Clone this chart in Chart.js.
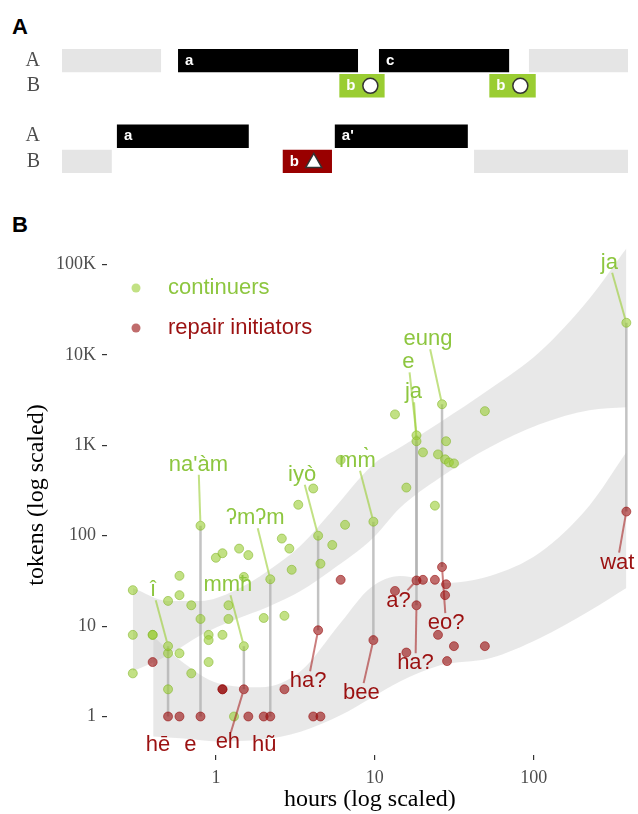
<!DOCTYPE html>
<html>
<head>
<meta charset="utf-8">
<script src="https://cdn.jsdelivr.net/npm/chart.js@4.4.1/dist/chart.umd.min.js"></script>
<style>
  body { margin: 0; background: #fff; width: 638px; height: 814px; position: relative; overflow: hidden; font-family: "Liberation Sans", Arial, sans-serif; }
  .tag { position: absolute; font-weight: bold; font-size: 22px; color: #000; line-height: 26px; }
  #wrapA { position: absolute; left: 0; top: 0; width: 638px; height: 200px; }
  #wrapB { position: absolute; left: 0; top: 200px; width: 638px; height: 614px; }
</style>
</head>
<body>
<div class="tag" style="left:12px;top:14px">A</div>
<div class="tag" style="left:12px;top:212px">B</div>
<div id="wrapA"><canvas id="turns"></canvas></div>
<div id="wrapB"><canvas id="scatter"></canvas></div>
<script>
// ---- panel A: turn timeline ----
const rowNames = ['A', 'B', '', 'A', 'B'];
const turnRow = [0, 0, 0, 0, 1, 1, 3, 3, 4, 4, 4];
const turnStart = [0, 20.5, 56, 82.5, 49, 75.5, 9.7, 48.2, 0, 39, 72.8];
const turnEnd = [17.5, 52.3, 79, 100, 57, 83.7, 33, 71.7, 8.8, 47.7, 100];
const turnKind = ['other', 'talk', 'talk', 'other', 'cont', 'cont', 'talk', 'talk', 'other', 'repair', 'other'];
const turnLabel = ['', 'a', 'c', '', 'b', 'b', 'a', "a'", '', 'b', ''];

// ---- panel B: hours vs tokens ----
const contHours = [0.3, 0.3, 0.3, 0.4, 0.4, 0.5, 0.5, 0.5, 0.59, 0.59, 0.59, 0.7, 0.7, 0.8, 0.9, 0.9, 0.9,
  1.0, 1.1, 1.1, 1.2, 1.2, 1.4, 1.6, 1.5, 1.3, 2.6, 2.9, 3.0, 3.3, 4.1, 5.4, 4.55, 6.5, 6.1, 2.0, 2.7,
  13.4, 20.1, 28.1, 25, 27.7, 29.3, 31.5, 49.3, 15.8, 23.9];
const contTokens = [25, 8, 3, 8, 8, 19, 5, 2, 36, 22, 5, 17, 3, 12, 8, 7, 4,
  57, 64, 8, 17, 12, 72, 61, 35, 1, 93, 72, 42, 220, 333, 79, 49, 132, 690, 12.3, 13,
  2200, 836, 1110, 794, 700, 647, 631, 2390, 341, 215];
const repHours = [0.4, 0.59, 1.1, 1.1, 1.6, 2.0, 2.7, 4.1, 4.55, 6.1, 13.4, 20.1, 23.9, 28.1, 27.7, 25, 31.5, 49.3, 15.8, 28.5];
const repTokens = [4, 1, 2, 2, 1, 1, 2, 1, 1, 32.5, 24.5, 32.5, 32.5, 29, 22, 8, 6, 6, 5.1, 4.1];

// labelled pairs: same language, continuer vs repair initiator
const pairHours = [0.5, 0.8, 1.5, 2.2, 4.4, 9.8, 18.3, 18.3, 26.5, 383];
const pairCont = [6, 129, 6, 33, 100, 143, 1290, 1110, 2850, 22700];
const pairRep = [1, 1, 2, 1, 9, 7, 32, 17, 45, 185];
const contWords = ['î', "na'àm", 'mmħ', 'ʔmʔm', 'iyò', 'mm\u0300', 'e', 'ja', 'eung', 'ja'];
const repWords = ['hē', 'e', 'eh', 'hũ', 'ha?', 'bee', 'a?', 'ha?', 'eo?', 'wat'];

// smoother confidence bands
const contBandHours = [0.3, 0.5, 0.8, 1.3, 2.12, 3.41, 5.26, 9.79, 14.5, 25.8, 53, 109, 224, 383];
const contBandHigh = [26.4, 19, 19, 24.5, 40.8, 77.4, 180, 615, 950, 1800, 4190, 10800, 41900, 150600];
const contBandLow = [3.16, 4.76, 7.94, 11.7, 16.3, 24.5, 40.8, 95, 205, 441, 950, 1710, 2450, 2640];
const repBandHours = [0.403, 0.63, 1.03, 1.92, 3.41, 6.08, 9.37, 14.5, 25.8, 53, 109, 224, 383];
const repBandHigh = [7.74, 3.88, 2.33, 2.1, 3.16, 10.8, 26.4, 35.9, 30, 35.9, 64.7, 215, 836];
const repBandLow = [0.6, 0.57, 0.53, 0.555, 0.68, 1.03, 1.58, 2.45, 3.69, 4.41, 7.36, 14.7, 26.4];

const hourTicks = [1, 10, 100];
const tokenTicks = [1, 10, 100, 1000, 10000, 100000];
const tokenTickLabels = ['1', '10', '100', '1K', '10K', '100K'];
const legendNames = ['continuers', 'repair initiators'];

const GREEN = '#8dc63f';
const RED = '#9b1111';
const kindColor = { other: '#e5e5e5', talk: '#000000', cont: '#9acd32', repair: '#990000' };
const serif = '"Liberation Serif", "Times New Roman", serif';
const sans = '"Liberation Sans", Arial, sans-serif';

// label offsets in px from the point: [dx, dy, draw leader]
const contOffset = [[-15, -56, 1], [-2, -61, 1], [-16, -61, 1], [-15, -61, 1], [-16, -61, 1], [-16, -61, 1],
  [-8, -73, 1], [-3, -49, 1], [-14, -65, 1], [-17, -60, 1]];
const repOffset = [[-10, 28, 0], [-10, 28, 0], [-16, 53, 1], [-6, 28, 0], [-10, 51, 1], [-12, 53, 1],
  [-18, 20, 1], [-1, 58, 1], [4, 56, 1], [-9, 51, 1]];

// ---------- panel A ----------
const turnLabels = {
  id: 'turnLabels',
  afterDatasetsDraw(chart) {
    const ctx = chart.ctx;
    ctx.save();
    ctx.font = 'bold 15px ' + sans;
    ctx.textBaseline = 'middle';
    turnRow.forEach((r, k) => {
      if (!turnLabel[k]) return;
      const bar = chart.getDatasetMeta(k).data[r];
      const left = Math.min(bar.x, bar.base);
      ctx.fillStyle = '#fff';
      ctx.textAlign = 'left';
      ctx.fillText(turnLabel[k], left + 7, bar.y);
      if (turnKind[k] === 'cont' || turnKind[k] === 'repair') {
        const cx = left + 31, cy = bar.y;
        ctx.beginPath();
        if (turnKind[k] === 'cont') {
          ctx.arc(cx, cy, 7.5, 0, Math.PI * 2);
        } else {
          ctx.moveTo(cx, cy - 8);
          ctx.lineTo(cx + 8, cy + 6);
          ctx.lineTo(cx - 8, cy + 6);
          ctx.closePath();
        }
        ctx.fillStyle = '#fff';
        ctx.fill();
        ctx.lineWidth = 1.5;
        ctx.strokeStyle = '#333';
        ctx.stroke();
      }
    });
    ctx.restore();
  }
};

new Chart(document.getElementById('turns'), {
  type: 'bar',
  data: {
    labels: rowNames,
    datasets: turnRow.map((r, k) => ({
      data: rowNames.map((_, i) => i === r ? [turnStart[k], turnEnd[k]] : null),
      backgroundColor: kindColor[turnKind[k]],
      borderWidth: 0,
      grouped: false,
      barPercentage: 0.93,
      categoryPercentage: 1
    }))
  },
  options: {
    indexAxis: 'y',
    responsive: true,
    maintainAspectRatio: false,
    animation: false,
    layout: { padding: { top: 48, bottom: 13, right: 10, left: 0 } },
    plugins: { legend: { display: false }, tooltip: { enabled: false } },
    scales: {
      x: { type: 'linear', min: 0, max: 100, display: false },
      y: {
        grid: { display: false },
        border: { display: false },
        ticks: { autoSkip: false, color: '#4d4d4d', font: { family: serif, size: 20 }, padding: 14 },
        afterFit: s => { s.width = 62; }
      }
    }
  },
  plugins: [turnLabels]
});

// ---------- panel B ----------
function drawTag(ctx, px, py, text, off, textColor, lineColor) {
  const lx = px + off[0], ly = py + off[1];
  const hw = ctx.measureText(text).width / 2 + 1, hh = 10;
  const dx = px - lx, dy = py - ly;
  const len = Math.hypot(dx, dy);
  const t0 = Math.min(dx ? hw / Math.abs(dx) : 1e9, dy ? hh / Math.abs(dy) : 1e9);
  const t1 = 1 - 4.5 / len;
  if (off[2] && t1 > t0) {
    ctx.beginPath();
    ctx.moveTo(lx + dx * t0, ly + dy * t0);
    ctx.lineTo(lx + dx * t1, ly + dy * t1);
    ctx.strokeStyle = lineColor;
    ctx.lineWidth = 2;
    ctx.stroke();
  }
  ctx.fillStyle = textColor;
  ctx.fillText(text, lx, ly);
}

const wordLabels = {
  id: 'wordLabels',
  afterDatasetsDraw(chart) {
    const { ctx, chartArea } = chart;
    const x = chart.scales.x, y = chart.scales.y;
    ctx.save();
    ctx.font = '22px ' + sans;
    ctx.textAlign = 'center';
    ctx.textBaseline = 'middle';
    pairHours.forEach((h, i) => {
      const px = x.getPixelForValue(h);
      drawTag(ctx, px, y.getPixelForValue(pairCont[i]), contWords[i], contOffset[i], GREEN, 'rgba(154,205,50,0.6)');
      drawTag(ctx, px, y.getPixelForValue(pairRep[i]), repWords[i], repOffset[i], RED, 'rgba(160,20,20,0.55)');
    });
    // legend
    ctx.textAlign = 'left';
    legendNames.forEach((name, i) => {
      const cy = chartArea.top + 53 + i * 40;
      ctx.beginPath();
      ctx.arc(chartArea.left + 29, cy, 4.5, 0, Math.PI * 2);
      ctx.fillStyle = i === 0 ? 'rgba(154,205,50,0.6)' : 'rgba(150,10,10,0.6)';
      ctx.fill();
      ctx.fillStyle = i === 0 ? GREEN : RED;
      ctx.fillText(name, chartArea.left + 61, cy);
    });
    ctx.restore();
  }
};

const pointStyle = (fill, edge) => ({
  type: 'scatter',
  pointRadius: 4.5,
  pointBorderWidth: 0.8,
  pointBackgroundColor: fill,
  pointBorderColor: edge,
  order: 0
});

const band = (xs, ys, fill) => ({
  type: 'line',
  data: xs.map((v, i) => ({ x: v, y: ys[i] })),
  borderWidth: 0,
  pointRadius: 0,
  cubicInterpolationMode: 'monotone',
  backgroundColor: 'rgba(200,200,200,0.42)',
  fill: fill,
  order: 3
});

const datasets = [
  Object.assign(pointStyle('rgba(150,10,10,0.6)', 'rgba(150,10,10,0.7)'), {
    label: 'repair initiators',
    data: repHours.concat(pairHours).map((v, i) => ({ x: v, y: repTokens.concat(pairRep)[i] }))
  }),
  Object.assign(pointStyle('rgba(154,205,50,0.6)', 'rgba(130,180,40,0.7)'), {
    label: 'continuers',
    order: 1,
    data: contHours.concat(pairHours).map((v, i) => ({ x: v, y: contTokens.concat(pairCont)[i] }))
  }),
  band(contBandHours, contBandHigh, false),
  band(contBandHours, contBandLow, '-1'),
  band(repBandHours, repBandHigh, false),
  band(repBandHours, repBandLow, '-1')
];
pairHours.forEach((h, i) => {
  datasets.push({
    type: 'line',
    data: [{ x: h, y: pairCont[i] }, { x: h, y: pairRep[i] }],
    borderColor: 'rgba(175,175,175,0.75)',
    borderWidth: 2.5,
    pointRadius: 0,
    fill: false,
    order: 2
  });
});

new Chart(document.getElementById('scatter'), {
  type: 'scatter',
  data: { datasets },
  options: {
    responsive: true,
    maintainAspectRatio: false,
    animation: false,
    layout: { padding: { top: 35, left: 0, right: 0, bottom: 0 } },
    plugins: { legend: { display: false }, tooltip: { enabled: false } },
    scales: {
      x: {
        type: 'logarithmic',
        min: 0.2064,
        max: 420,
        afterBuildTicks: s => { s.ticks = hourTicks.map(v => ({ value: v })); },
        afterFit: s => { s.height = 59; },
        grid: { drawOnChartArea: false, drawTicks: true, tickLength: 5, color: '#333', lineWidth: 1.2 },
        border: { display: false },
        ticks: { autoSkip: false, maxRotation: 0, padding: 7, color: '#4d4d4d', font: { family: serif, size: 18 },
          callback: v => String(v) },
        title: { display: true, text: 'hours (log scaled)', color: '#000', font: { family: serif, size: 24 },
          padding: { top: 0, bottom: 0 } }
      },
      y: {
        type: 'logarithmic',
        min: 0.375,
        max: 212300,
        afterBuildTicks: s => { s.ticks = tokenTicks.map(v => ({ value: v })); },
        afterFit: s => { s.width = 107; },
        grid: { drawOnChartArea: false, drawTicks: true, tickLength: 5, color: '#333', lineWidth: 1.2 },
        border: { display: false },
        ticks: { autoSkip: false, padding: 6, color: '#4d4d4d', font: { family: serif, size: 18 },
          callback: (v, i) => tokenTickLabels[i] },
        title: { display: true, text: 'tokens (log scaled)', color: '#000', font: { family: serif, size: 24 },
          padding: { top: 22, bottom: 0 } }
      }
    }
  },
  plugins: [wordLabels]
});
</script>
</body>
</html>
